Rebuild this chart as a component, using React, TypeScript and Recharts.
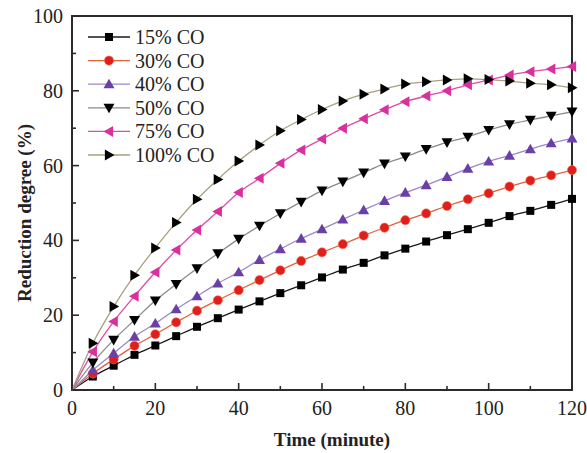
import React from 'react';
import { LineChart, Line, XAxis, YAxis, ReferenceArea, Legend } from 'recharts';

// reduction degree (%) read every 5 minutes, 0 to 120
const time = [0, 5, 10, 15, 20, 25, 30, 35, 40, 45, 50, 55, 60, 65, 70, 75, 80, 85, 90, 95, 100, 105, 110, 115, 120];

const co15 = [0, 3.6, 6.5, 9.4, 11.9, 14.4, 16.9, 19.2, 21.5, 23.7, 25.9, 28.0, 30.1, 32.2, 34.0, 36.0, 37.8, 39.7, 41.4, 43.0, 44.7, 46.5, 47.9, 49.5, 51.1];
const co30 = [0, 4.4, 8.2, 11.8, 14.9, 18.1, 21.2, 24.0, 26.7, 29.4, 32.0, 34.5, 36.8, 39.0, 41.3, 43.4, 45.4, 47.2, 49.2, 51.0, 52.6, 54.4, 56.0, 57.4, 58.8];
const co40 = [0, 5.3, 9.8, 14.3, 17.8, 21.6, 25.1, 28.5, 31.5, 34.8, 37.7, 40.5, 43.0, 45.6, 48.1, 50.6, 52.8, 54.8, 57.0, 59.2, 61.1, 62.7, 64.4, 66.0, 67.3];
const co50 = [0, 7.3, 13.4, 18.7, 23.9, 28.3, 32.5, 36.5, 40.4, 43.9, 47.2, 50.3, 53.3, 55.7, 58.1, 60.5, 62.4, 64.4, 66.2, 67.7, 69.5, 71.0, 72.2, 73.3, 74.4];
const co75 = [0, 10.2, 18.3, 25.1, 31.5, 37.4, 42.8, 47.7, 52.8, 56.6, 60.6, 64.2, 67.1, 70.0, 72.5, 74.9, 77.1, 78.6, 80.0, 81.6, 82.9, 84.2, 85.1, 85.8, 86.5];
const co100 = [0, 12.5, 22.3, 30.7, 38.0, 44.8, 51.0, 56.3, 61.2, 65.5, 69.3, 72.3, 75.0, 77.3, 79.1, 80.5, 81.8, 82.4, 82.9, 83.2, 83.0, 82.6, 82.0, 81.6, 80.8];

const xTicks = [0, 10, 20, 30, 40, 50, 60, 70, 80, 90, 100, 110, 120];
const yTicks = [0, 10, 20, 30, 40, 50, 60, 70, 80, 90, 100];

type Shape = 'square' | 'circle' | 'up' | 'down' | 'left' | 'right';

const series: { key: string; name: string; line: string; fill: string; shape: Shape }[] = [
  { key: 'co15', name: '15% CO', line: '#1a1a1a', fill: '#000000', shape: 'square' },
  { key: 'co30', name: '30% CO', line: '#e2603c', fill: '#e01e1e', shape: 'circle' },
  { key: 'co40', name: '40% CO', line: '#9a88c8', fill: '#6a3fa6', shape: 'up' },
  { key: 'co50', name: '50% CO', line: '#8a8a8a', fill: '#000000', shape: 'down' },
  { key: 'co75', name: '75% CO', line: '#e04aa8', fill: '#d8309e', shape: 'left' },
  { key: 'co100', name: '100% CO', line: '#a8a07e', fill: '#000000', shape: 'right' },
];

const data = time.map((t, i) => ({
  time: t,
  co15: co15[i],
  co30: co30[i],
  co40: co40[i],
  co50: co50[i],
  co75: co75[i],
  co100: co100[i],
}));

const FONT = '"Liberation Serif", "Times New Roman", serif';
const AXIS = '#2b2b2b';

function Marker({ cx, cy, shape, fill }: { cx: number; cy: number; shape: Shape; fill: string }) {
  const s = 5.5;
  switch (shape) {
    case 'square':
      return <rect x={cx - 4} y={cy - 4} width={8} height={8} fill={fill} />;
    case 'circle':
      return <circle cx={cx} cy={cy} r={4.6} fill={fill} stroke="#f07a50" strokeWidth={0.6} />;
    case 'up':
      return <polygon points={`${cx},${cy - s} ${cx - s},${cy + s * 0.75} ${cx + s},${cy + s * 0.75}`} fill={fill} />;
    case 'down':
      return <polygon points={`${cx},${cy + s} ${cx - s},${cy - s * 0.75} ${cx + s},${cy - s * 0.75}`} fill={fill} />;
    case 'left':
      return <polygon points={`${cx - s},${cy} ${cx + s * 0.75},${cy - s} ${cx + s * 0.75},${cy + s}`} fill={fill} />;
    default:
      return <polygon points={`${cx + s},${cy} ${cx - s * 0.75},${cy - s} ${cx - s * 0.75},${cy + s}`} fill={fill} />;
  }
}

const makeDot = (shape: Shape, fill: string) => (props: any) => {
  const { cx, cy, index } = props;
  if (index === 0 || cx == null || cy == null) return <g key={`d-${index}`} />;
  return (
    <g key={`d-${index}`}>
      <Marker cx={cx} cy={cy} shape={shape} fill={fill} />
    </g>
  );
};

const YTick = (props: any) => {
  const { x, y, payload } = props;
  const major = payload.value % 20 === 0;
  return (
    <g>
      <line x1={x} x2={x + (major ? 7 : 4)} y1={y} y2={y} stroke={AXIS} strokeWidth={1.6} />
      {major && (
        <text x={x - 9} y={y} dy="0.35em" textAnchor="end" fontSize={20} fontFamily={FONT} fill="#222">
          {payload.value}
        </text>
      )}
    </g>
  );
};

const XTick = (props: any) => {
  const { x, y, payload } = props;
  const major = payload.value % 20 === 0;
  return (
    <g>
      <line x1={x} x2={x} y1={y} y2={y - (major ? 7 : 4)} stroke={AXIS} strokeWidth={1.6} />
      {major && (
        <text x={x} y={y + 18} dy="0.35em" textAnchor="middle" fontSize={20} fontFamily={FONT} fill="#222">
          {payload.value}
        </text>
      )}
    </g>
  );
};

const renderLegend = () => (
  <svg width={200} height={150} style={{ display: 'block' }}>
    {series.map((s, i) => {
      const y = 12 + i * 23.6;
      return (
        <g key={s.key}>
          <line x1={8} x2={50} y1={y} y2={y} stroke={s.line} strokeWidth={1.3} />
          <Marker cx={29} cy={y} shape={s.shape} fill={s.fill} />
          <text x={55} y={y} dy="0.35em" fontSize={20} fontFamily={FONT} fill="#222">
            {s.name}
          </text>
        </g>
      );
    })}
  </svg>
);

export default function App() {
  return (
    <div style={{ position: 'absolute', left: 0, top: 0, width: 587, height: 453, background: '#fff' }}>
      <LineChart width={587} height={453} data={data} margin={{ top: 16, right: 15, bottom: 0, left: 0 }}>
        <XAxis
          dataKey="time"
          type="number"
          domain={[0, 120]}
          ticks={xTicks}
          interval={0}
          height={63}
          tickSize={0}
          tickMargin={0}
          axisLine={false}
          tickLine={false}
          tick={<XTick />}
          label={{
            content: (p: any) => {
              const vb = p.viewBox;
              return (
                <text x={vb.x + vb.width / 2 + 10} y={vb.y + vb.height - 7} textAnchor="middle" fontSize={19} fontWeight="bold" fontFamily={FONT} fill="#222">
                  Time (minute)
                </text>
              );
            },
          }}
        />
        <YAxis
          type="number"
          domain={[0, 100]}
          ticks={yTicks}
          interval={0}
          width={72}
          tickSize={0}
          tickMargin={0}
          axisLine={false}
          tickLine={false}
          tick={<YTick />}
          label={{
            content: (p: any) => {
              const vb = p.viewBox;
              const cy = vb.y + vb.height / 2 + 10;
              return (
                <text x={31} y={cy} transform={`rotate(-90 31 ${cy})`} textAnchor="middle" fontSize={19} fontWeight="bold" fontFamily={FONT} fill="#222">
                  Reduction degree (%)
                </text>
              );
            },
          }}
        />
        <Legend
          layout="vertical"
          align="center"
          verticalAlign="middle"
          content={renderLegend}
          wrapperStyle={{ left: 80, top: 25, width: 200 }}
        />
        {series.map((s) => (
          <Line
            key={s.key}
            type="monotone"
            dataKey={s.key}
            name={s.name}
            stroke={s.line}
            strokeWidth={1.3}
            dot={makeDot(s.shape, s.fill)}
            activeDot={false}
            isAnimationActive={false}
          />
        ))}
        <ReferenceArea x1={0} x2={120} y1={0} y2={100} fill="none" stroke={AXIS} strokeWidth={2} />
      </LineChart>
    </div>
  );
}
